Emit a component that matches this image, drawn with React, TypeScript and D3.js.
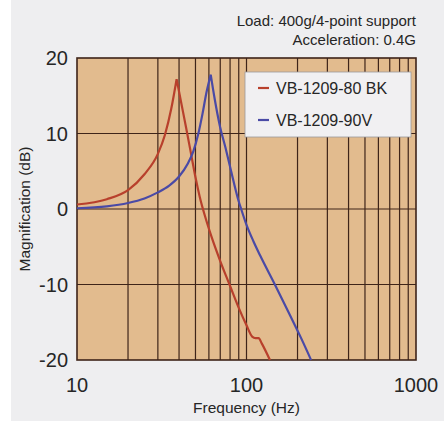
import React, { useEffect, useRef } from 'react';
import * as d3 from 'd3';

// Series (frequency in Hz, magnification in dB)
const redFreq = [10, 15, 20, 25, 30, 33, 36, 38.7, 41, 44, 47, 50, 53, 57, 62, 70, 80, 90, 100, 108, 113, 118, 123, 137.5];
const redDb = [0.6, 1.3, 2.5, 4.6, 7.3, 9.8, 13.3, 17.2, 14.3, 10.8, 7.4, 4.2, 1.6, -1.0, -3.6, -6.9, -10.2, -13.1, -15.4, -16.9, -17.1, -17.1, -17.8, -20];

const blueFreq = [10, 15, 20, 25, 30, 35, 40, 45, 48.5, 52, 55, 58, 61.5, 65, 69.8, 75, 80, 90, 93, 100, 110, 120, 147, 180, 210, 240.5];
const blueDb = [0.1, 0.35, 0.8, 1.4, 2.2, 3.1, 4.3, 6.0, 7.6, 10, 12.6, 15.4, 17.8, 14.5, 10.9, 8.2, 5.6, 1.0, 0.0, -2.1, -4.3, -6.1, -10, -14, -17.1, -20];

const seriesNames = ['VB-1209-80 BK', 'VB-1209-90V'];
const seriesColors = ['#b8402c', '#4a4aa6'];

const yTicks = [20, 10, 0, -10, -20];
const xTickLabels = [10, 100, 1000];
const titleLines = ['Load: 400g/4-point support', 'Acceleration: 0.4G'];

const App: React.FC = () => {
    const ref = useRef<SVGSVGElement>(null);

    useEffect(() => {
        if (!ref.current) return;
        const svg = d3.select(ref.current);
        svg.selectAll('*').remove();

        const width = 444;
        const height = 421;
        const margin = { top: 58, right: 28, bottom: 61, left: 77 };
        const font = 'Liberation Sans, Arial, sans-serif';
        const ink = '#262626';
        const gridColor = '#3e2419';

        svg.append('rect').attr('width', width).attr('height', height).attr('fill', '#eeeef0');
        svg.append('rect').attr('width', 11).attr('height', height).attr('fill', '#ffffff');

        const x = d3.scaleLog().domain([10, 1000]).range([margin.left, width - margin.right]);
        const y = d3.scaleLinear().domain([-20, 20]).range([height - margin.bottom, margin.top]);

        // plot area
        svg.append('rect')
            .attr('x', x(10)).attr('y', y(20))
            .attr('width', x(1000) - x(10)).attr('height', y(-20) - y(20))
            .attr('fill', '#e2bb8e');

        // vertical log grid
        const minor = x.ticks().filter(v => v > 10 && v < 1000);
        svg.append('g').selectAll('line').data(minor).enter().append('line')
            .attr('x1', d => x(d)).attr('x2', d => x(d))
            .attr('y1', y(20)).attr('y2', y(-20))
            .attr('stroke', gridColor).attr('stroke-width', 1.2);

        // horizontal grid
        svg.append('g').selectAll('line').data(yTicks.filter(v => v > -20 && v < 20)).enter().append('line')
            .attr('x1', x(10)).attr('x2', x(1000))
            .attr('y1', d => y(d)).attr('y2', d => y(d))
            .attr('stroke', gridColor).attr('stroke-width', 1.2);

        svg.append('rect')
            .attr('x', x(10)).attr('y', y(20))
            .attr('width', x(1000) - x(10)).attr('height', y(-20) - y(20))
            .attr('fill', 'none').attr('stroke', gridColor).attr('stroke-width', 1.6);

        // curves: rising and falling flanks drawn separately so the resonance peak stays sharp
        const curve = d3.line<[number, number]>()
            .x(d => x(d[0])).y(d => y(d[1]))
            .curve(d3.curveMonotoneX);
        const seriesData: [number, number][][] = [
            redFreq.map((f, i) => [f, redDb[i]]),
            blueFreq.map((f, i) => [f, blueDb[i]])
        ];
        seriesData.forEach((data, i) => {
            const peak = d3.maxIndex(data, d => d[1]);
            const parts = [data.slice(0, peak + 1), data.slice(peak)];
            const d = parts.map(p => curve(p) as string).join('');
            svg.append('path')
                .attr('d', d)
                .attr('fill', 'none')
                .attr('stroke', seriesColors[i])
                .attr('stroke-width', 2.2)
                .attr('stroke-linejoin', 'round');
        });

        // y tick labels
        svg.append('g').selectAll('text').data(yTicks).enter().append('text')
            .attr('x', x(10) - 9).attr('y', d => y(d))
            .attr('dy', '0.36em')
            .attr('text-anchor', 'end')
            .attr('font-family', font).attr('font-size', 20).attr('fill', ink)
            .text(d => d);

        // x tick labels
        svg.append('g').selectAll('text').data(xTickLabels).enter().append('text')
            .attr('x', d => x(d)).attr('y', 392)
            .attr('text-anchor', 'middle')
            .attr('font-family', font).attr('font-size', 20).attr('fill', ink)
            .text(d => d);

        // axis titles
        svg.append('text')
            .attr('x', (x(10) + x(1000)) / 2).attr('y', 413)
            .attr('text-anchor', 'middle')
            .attr('font-family', font).attr('font-size', 15.5).attr('fill', ink)
            .text('Frequency (Hz)');

        svg.append('text')
            .attr('transform', `translate(30, ${(y(20) + y(-20)) / 2}) rotate(-90)`)
            .attr('text-anchor', 'middle')
            .attr('font-family', font).attr('font-size', 15.5).attr('fill', ink)
            .text('Magnification (dB)');

        // header
        svg.append('g').selectAll('text').data(titleLines).enter().append('text')
            .attr('x', x(1000)).attr('y', (_, i) => 26 + i * 19)
            .attr('text-anchor', 'end')
            .attr('font-family', font).attr('font-size', 15).attr('fill', ink)
            .text(d => d);

        // legend
        const lg = svg.append('g').attr('transform', 'translate(245, 72)');
        lg.append('rect').attr('width', 166).attr('height', 65)
            .attr('fill', '#f1f0f2').attr('stroke', '#9c9a9c').attr('stroke-width', 0.8);
        seriesNames.forEach((name, i) => {
            const cy = 16 + i * 32;
            lg.append('line').attr('x1', 13).attr('x2', 24).attr('y1', cy).attr('y2', cy)
                .attr('stroke', seriesColors[i]).attr('stroke-width', 2.2);
            lg.append('text').attr('x', 31).attr('y', cy).attr('dy', '0.36em')
                .attr('font-family', font).attr('font-size', 16).attr('fill', ink)
                .text(name);
        });
    }, []);

    return (
        <svg ref={ref} width={444} height={421}
            style={{ position: 'absolute', top: 0, left: 0, display: 'block' }} />
    );
};

export default App;
